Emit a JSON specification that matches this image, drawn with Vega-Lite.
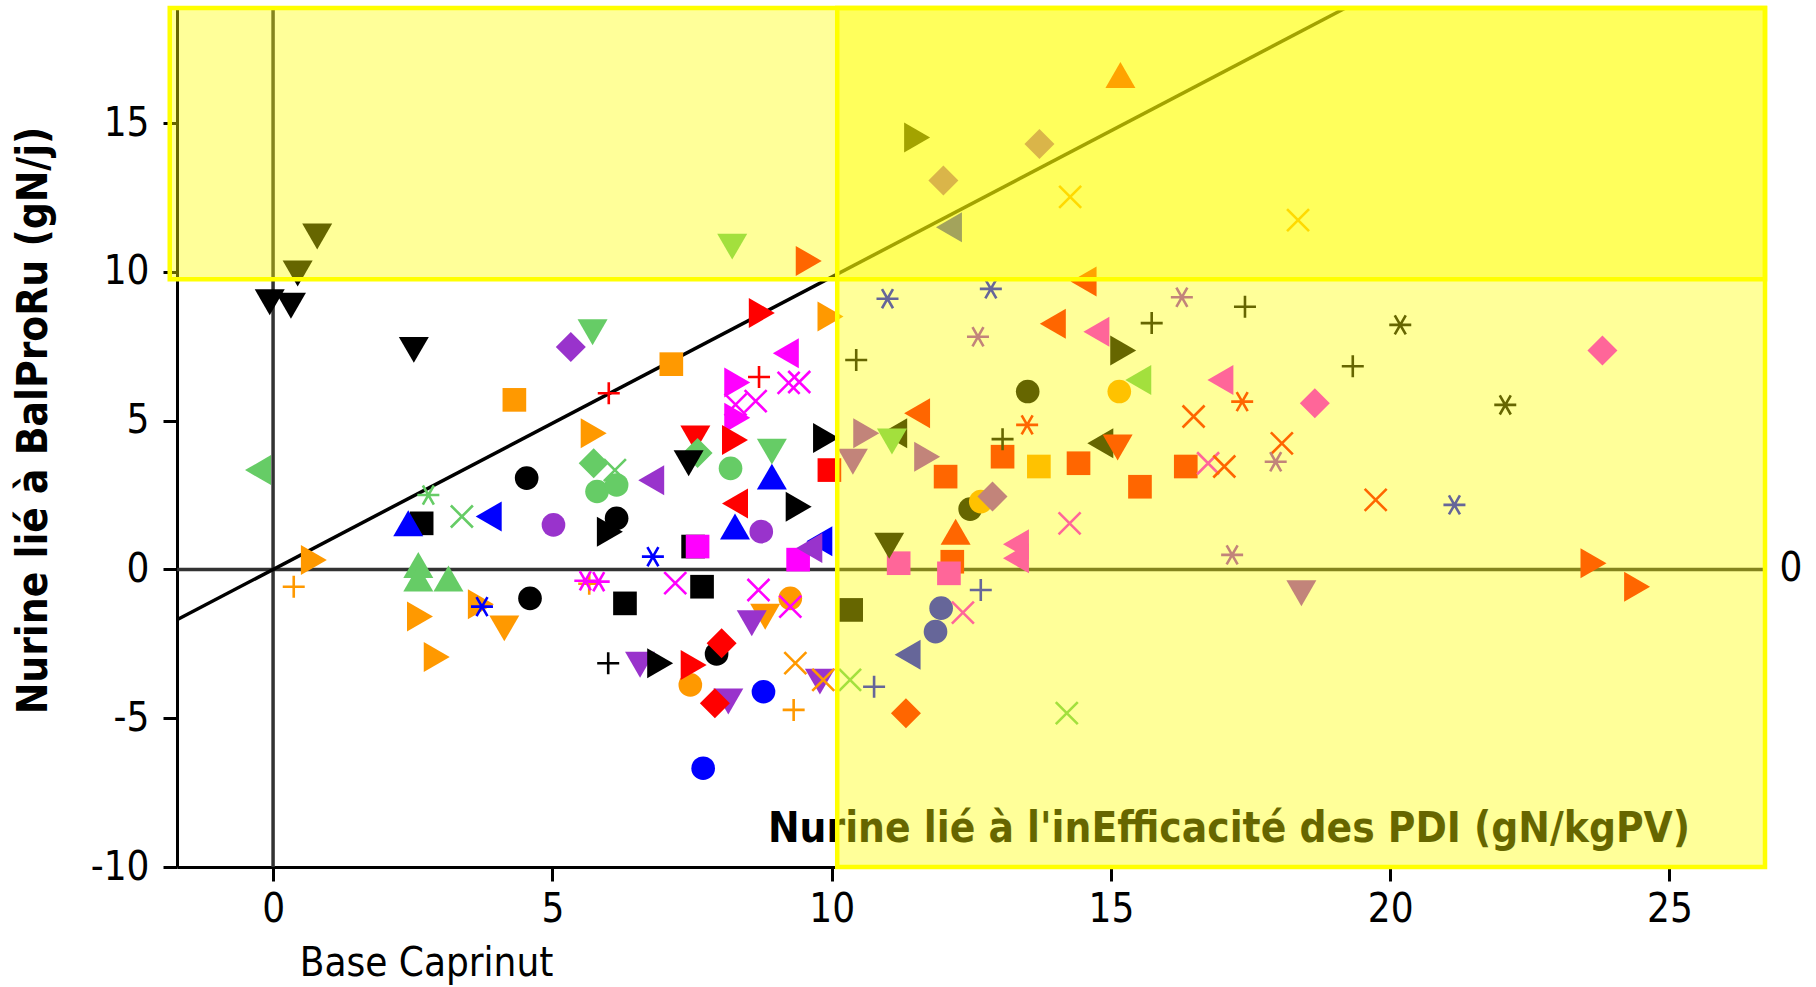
{
  "$schema": "https://vega.github.io/schema/vega-lite/v6.json",
  "width": 1588,
  "height": 859,
  "autosize": "none",
  "padding": {"left": 177, "top": 8, "right": 51, "bottom": 120},
  "background": "white",
  "config": {
    "view": {"stroke": null},
    "font": "DejaVu Sans Condensed, DejaVu Sans"
  },
  "datasets": {
    "points": [
      {"ineff": 15.17, "balpro": 16.62, "couleur": "rouge", "symbole": "triangle haut"},
      {"ineff": 11.53, "balpro": 14.52, "couleur": "noir", "symbole": "triangle droit"},
      {"ineff": 13.72, "balpro": 14.3, "couleur": "violet", "symbole": "losange"},
      {"ineff": 12.0, "balpro": 13.07, "couleur": "violet", "symbole": "losange"},
      {"ineff": 14.27, "balpro": 12.52, "couleur": "orange", "symbole": "croix"},
      {"ineff": 18.35, "balpro": 11.74, "couleur": "orange", "symbole": "croix"},
      {"ineff": 12.1, "balpro": 11.5, "couleur": "bleu", "symbole": "triangle gauche"},
      {"ineff": 8.22, "balpro": 10.85, "couleur": "vert", "symbole": "triangle bas"},
      {"ineff": 9.59, "balpro": 10.37, "couleur": "rouge", "symbole": "triangle droit"},
      {"ineff": 0.79, "balpro": 11.19, "couleur": "noir", "symbole": "triangle bas"},
      {"ineff": 0.44, "balpro": 9.95, "couleur": "noir", "symbole": "triangle bas"},
      {"ineff": 14.51, "balpro": 9.68, "couleur": "rouge", "symbole": "triangle gauche"},
      {"ineff": -0.06, "balpro": 8.98, "couleur": "noir", "symbole": "triangle bas"},
      {"ineff": 0.32, "balpro": 8.86, "couleur": "noir", "symbole": "triangle bas"},
      {"ineff": 11.0, "balpro": 9.1, "couleur": "bleu", "symbole": "étoile"},
      {"ineff": 12.85, "balpro": 9.43, "couleur": "bleu", "symbole": "étoile"},
      {"ineff": 16.27, "balpro": 9.15, "couleur": "violet", "symbole": "étoile"},
      {"ineff": 15.73, "balpro": 8.28, "couleur": "noir", "symbole": "plus"},
      {"ineff": 17.4, "balpro": 8.83, "couleur": "noir", "symbole": "plus"},
      {"ineff": 20.18, "balpro": 8.22, "couleur": "noir", "symbole": "étoile"},
      {"ineff": 13.96, "balpro": 8.26, "couleur": "rouge", "symbole": "triangle gauche"},
      {"ineff": 14.74, "balpro": 7.99, "couleur": "magenta", "symbole": "triangle gauche"},
      {"ineff": 15.22, "balpro": 7.36, "couleur": "noir", "symbole": "triangle droit"},
      {"ineff": 23.8, "balpro": 7.36, "couleur": "magenta", "symbole": "losange"},
      {"ineff": 19.33, "balpro": 6.83, "couleur": "noir", "symbole": "plus"},
      {"ineff": 8.75, "balpro": 8.62, "couleur": "rouge", "symbole": "triangle droit"},
      {"ineff": 9.98, "balpro": 8.5, "couleur": "orange", "symbole": "triangle droit"},
      {"ineff": 5.72, "balpro": 7.97, "couleur": "vert", "symbole": "triangle bas"},
      {"ineff": 5.33, "balpro": 7.48, "couleur": "violet", "symbole": "losange"},
      {"ineff": 2.52, "balpro": 7.38, "couleur": "noir", "symbole": "triangle bas"},
      {"ineff": 7.13, "balpro": 6.9, "couleur": "orange", "symbole": "carré"},
      {"ineff": 4.32, "balpro": 5.7, "couleur": "orange", "symbole": "carré"},
      {"ineff": 6.01, "balpro": 5.92, "couleur": "rouge", "symbole": "plus"},
      {"ineff": 9.18, "balpro": 7.27, "couleur": "magenta", "symbole": "triangle gauche"},
      {"ineff": 8.31, "balpro": 6.28, "couleur": "magenta", "symbole": "triangle droit"},
      {"ineff": 8.7, "balpro": 6.47, "couleur": "rouge", "symbole": "plus"},
      {"ineff": 9.23, "balpro": 6.27, "couleur": "magenta", "symbole": "croix"},
      {"ineff": 9.42, "balpro": 6.3, "couleur": "magenta", "symbole": "croix"},
      {"ineff": 8.28, "balpro": 5.54, "couleur": "magenta", "symbole": "croix"},
      {"ineff": 8.64, "balpro": 5.66, "couleur": "magenta", "symbole": "croix"},
      {"ineff": 8.31, "balpro": 5.1, "couleur": "magenta", "symbole": "triangle droit"},
      {"ineff": 12.62, "balpro": 7.82, "couleur": "violet", "symbole": "étoile"},
      {"ineff": 10.44, "balpro": 7.04, "couleur": "noir", "symbole": "plus"},
      {"ineff": 13.51, "balpro": 5.98, "couleur": "noir", "symbole": "rond"},
      {"ineff": 15.15, "balpro": 5.98, "couleur": "orange", "symbole": "rond"},
      {"ineff": 15.49, "balpro": 6.37, "couleur": "vert", "symbole": "triangle gauche"},
      {"ineff": 16.96, "balpro": 6.37, "couleur": "magenta", "symbole": "triangle gauche"},
      {"ineff": 16.48, "balpro": 5.14, "couleur": "rouge", "symbole": "croix"},
      {"ineff": 13.5, "balpro": 4.86, "couleur": "rouge", "symbole": "étoile"},
      {"ineff": 11.53, "balpro": 5.25, "couleur": "rouge", "symbole": "triangle gauche"},
      {"ineff": 10.62, "balpro": 4.58, "couleur": "violet", "symbole": "triangle droit"},
      {"ineff": 11.12, "balpro": 4.58, "couleur": "noir", "symbole": "triangle gauche"},
      {"ineff": 11.08, "balpro": 4.3, "couleur": "vert", "symbole": "triangle bas"},
      {"ineff": 10.38, "balpro": 3.62, "couleur": "violet", "symbole": "triangle bas"},
      {"ineff": 11.71, "balpro": 3.79, "couleur": "violet", "symbole": "triangle droit"},
      {"ineff": 12.04, "balpro": 3.12, "couleur": "rouge", "symbole": "carré"},
      {"ineff": 13.06, "balpro": 4.38, "couleur": "noir", "symbole": "plus"},
      {"ineff": 13.06, "balpro": 3.79, "couleur": "rouge", "symbole": "carré"},
      {"ineff": 13.71, "balpro": 3.46, "couleur": "orange", "symbole": "carré"},
      {"ineff": 14.42, "balpro": 3.57, "couleur": "rouge", "symbole": "carré"},
      {"ineff": 14.81, "balpro": 4.24, "couleur": "noir", "symbole": "triangle gauche"},
      {"ineff": 15.12, "balpro": 4.1, "couleur": "rouge", "symbole": "triangle bas"},
      {"ineff": 15.52, "balpro": 2.78, "couleur": "rouge", "symbole": "carré"},
      {"ineff": 16.34, "balpro": 3.46, "couleur": "rouge", "symbole": "carré"},
      {"ineff": 16.74, "balpro": 3.57, "couleur": "magenta", "symbole": "croix"},
      {"ineff": 12.48, "balpro": 2.03, "couleur": "noir", "symbole": "rond"},
      {"ineff": 12.88, "balpro": 2.45, "couleur": "violet", "symbole": "losange"},
      {"ineff": 12.67, "balpro": 2.28, "couleur": "orange", "symbole": "rond"},
      {"ineff": 12.22, "balpro": 1.27, "couleur": "rouge", "symbole": "triangle haut"},
      {"ineff": 14.26, "balpro": 1.55, "couleur": "magenta", "symbole": "croix"},
      {"ineff": 13.3, "balpro": 0.85, "couleur": "magenta", "symbole": "triangle gauche"},
      {"ineff": 13.3, "balpro": 0.38, "couleur": "magenta", "symbole": "triangle gauche"},
      {"ineff": 11.03, "balpro": 0.8, "couleur": "noir", "symbole": "triangle bas"},
      {"ineff": 11.2, "balpro": 0.21, "couleur": "magenta", "symbole": "carré"},
      {"ineff": 12.16, "balpro": 0.26, "couleur": "rouge", "symbole": "carré"},
      {"ineff": 12.1, "balpro": -0.13, "couleur": "magenta", "symbole": "carré"},
      {"ineff": 12.67, "balpro": -0.69, "couleur": "bleu", "symbole": "plus"},
      {"ineff": 10.35, "balpro": -1.36, "couleur": "noir", "symbole": "carré"},
      {"ineff": 11.96, "balpro": -1.3, "couleur": "bleu", "symbole": "rond"},
      {"ineff": 12.35, "balpro": -1.45, "couleur": "magenta", "symbole": "croix"},
      {"ineff": 11.86, "balpro": -2.09, "couleur": "bleu", "symbole": "rond"},
      {"ineff": 11.36, "balpro": -2.87, "couleur": "bleu", "symbole": "triangle gauche"},
      {"ineff": 17.35, "balpro": 5.64, "couleur": "rouge", "symbole": "étoile"},
      {"ineff": 18.65, "balpro": 5.59, "couleur": "magenta", "symbole": "losange"},
      {"ineff": 22.06, "balpro": 5.53, "couleur": "noir", "symbole": "étoile"},
      {"ineff": 18.06, "balpro": 4.24, "couleur": "rouge", "symbole": "croix"},
      {"ineff": 17.03, "balpro": 3.46, "couleur": "rouge", "symbole": "croix"},
      {"ineff": 17.95, "balpro": 3.62, "couleur": "violet", "symbole": "étoile"},
      {"ineff": 19.74, "balpro": 2.34, "couleur": "rouge", "symbole": "croix"},
      {"ineff": 21.15, "balpro": 2.17, "couleur": "bleu", "symbole": "étoile"},
      {"ineff": 17.17, "balpro": 0.49, "couleur": "violet", "symbole": "étoile"},
      {"ineff": 18.41, "balpro": -0.8, "couleur": "violet", "symbole": "triangle bas"},
      {"ineff": 23.64, "balpro": 0.21, "couleur": "rouge", "symbole": "triangle droit"},
      {"ineff": 24.42, "balpro": -0.58, "couleur": "rouge", "symbole": "triangle droit"},
      {"ineff": -0.27, "balpro": 3.34, "couleur": "vert", "symbole": "triangle gauche"},
      {"ineff": 0.73, "balpro": 0.32, "couleur": "orange", "symbole": "triangle droit"},
      {"ineff": 0.37, "balpro": -0.58, "couleur": "orange", "symbole": "plus"},
      {"ineff": 2.6, "balpro": 0.15, "couleur": "vert", "symbole": "triangle haut"},
      {"ineff": 2.6, "balpro": -0.3, "couleur": "vert", "symbole": "triangle haut"},
      {"ineff": 3.14, "balpro": -0.3, "couleur": "vert", "symbole": "triangle haut"},
      {"ineff": 2.42, "balpro": 1.55, "couleur": "bleu", "symbole": "triangle haut"},
      {"ineff": 2.66, "balpro": 1.55, "couleur": "noir", "symbole": "carré"},
      {"ineff": 2.78, "balpro": 2.5, "couleur": "vert", "symbole": "étoile"},
      {"ineff": 3.38, "balpro": 1.78, "couleur": "vert", "symbole": "croix"},
      {"ineff": 3.86, "balpro": 1.78, "couleur": "bleu", "symbole": "triangle gauche"},
      {"ineff": 4.54, "balpro": 3.07, "couleur": "noir", "symbole": "rond"},
      {"ineff": 5.02, "balpro": 1.5, "couleur": "violet", "symbole": "rond"},
      {"ineff": 6.03, "balpro": 1.27, "couleur": "noir", "symbole": "triangle droit"},
      {"ineff": 6.15, "balpro": 1.72, "couleur": "noir", "symbole": "rond"},
      {"ineff": 5.74, "balpro": 4.58, "couleur": "orange", "symbole": "triangle droit"},
      {"ineff": 5.74, "balpro": 3.57, "couleur": "vert", "symbole": "losange"},
      {"ineff": 6.12, "balpro": 3.34, "couleur": "vert", "symbole": "croix"},
      {"ineff": 5.8, "balpro": 2.62, "couleur": "vert", "symbole": "rond"},
      {"ineff": 6.15, "balpro": 2.84, "couleur": "vert", "symbole": "rond"},
      {"ineff": 6.77, "balpro": 3.0, "couleur": "violet", "symbole": "triangle gauche"},
      {"ineff": 7.56, "balpro": 4.4, "couleur": "rouge", "symbole": "triangle bas"},
      {"ineff": 7.6, "balpro": 3.91, "couleur": "vert", "symbole": "losange"},
      {"ineff": 7.44, "balpro": 3.57, "couleur": "noir", "symbole": "triangle bas"},
      {"ineff": 8.27, "balpro": 4.35, "couleur": "rouge", "symbole": "triangle droit"},
      {"ineff": 8.19, "balpro": 3.4, "couleur": "vert", "symbole": "rond"},
      {"ineff": 8.93, "balpro": 3.96, "couleur": "vert", "symbole": "triangle bas"},
      {"ineff": 8.93, "balpro": 3.12, "couleur": "bleu", "symbole": "triangle haut"},
      {"ineff": 9.9, "balpro": 4.42, "couleur": "noir", "symbole": "triangle droit"},
      {"ineff": 9.96, "balpro": 3.34, "couleur": "rouge", "symbole": "carré"},
      {"ineff": 8.27, "balpro": 2.22, "couleur": "rouge", "symbole": "triangle gauche"},
      {"ineff": 8.27, "balpro": 1.44, "couleur": "bleu", "symbole": "triangle haut"},
      {"ineff": 8.74, "balpro": 1.27, "couleur": "violet", "symbole": "rond"},
      {"ineff": 9.41, "balpro": 2.11, "couleur": "noir", "symbole": "triangle droit"},
      {"ineff": 7.52, "balpro": 0.77, "couleur": "noir", "symbole": "carré"},
      {"ineff": 7.6, "balpro": 0.77, "couleur": "magenta", "symbole": "carré"},
      {"ineff": 6.8, "balpro": 0.43, "couleur": "bleu", "symbole": "étoile"},
      {"ineff": 9.78, "balpro": 0.95, "couleur": "bleu", "symbole": "triangle gauche"},
      {"ineff": 9.6, "balpro": 0.72, "couleur": "violet", "symbole": "triangle gauche"},
      {"ineff": 9.4, "balpro": 0.33, "couleur": "magenta", "symbole": "carré"},
      {"ineff": 2.63, "balpro": -1.58, "couleur": "orange", "symbole": "triangle droit"},
      {"ineff": 2.93, "balpro": -2.94, "couleur": "orange", "symbole": "triangle droit"},
      {"ineff": 4.14, "balpro": -1.98, "couleur": "orange", "symbole": "triangle bas"},
      {"ineff": 3.72, "balpro": -1.17, "couleur": "orange", "symbole": "triangle droit"},
      {"ineff": 3.74, "balpro": -1.25, "couleur": "bleu", "symbole": "étoile"},
      {"ineff": 4.6, "balpro": -0.97, "couleur": "noir", "symbole": "rond"},
      {"ineff": 5.66, "balpro": -0.48, "couleur": "orange", "symbole": "plus"},
      {"ineff": 5.59, "balpro": -0.38, "couleur": "magenta", "symbole": "étoile"},
      {"ineff": 5.83, "balpro": -0.41, "couleur": "magenta", "symbole": "étoile"},
      {"ineff": 6.3, "balpro": -1.14, "couleur": "noir", "symbole": "carré"},
      {"ineff": 7.2, "balpro": -0.46, "couleur": "magenta", "symbole": "croix"},
      {"ineff": 7.68, "balpro": -0.58, "couleur": "noir", "symbole": "carré"},
      {"ineff": 8.69, "balpro": -0.69, "couleur": "magenta", "symbole": "croix"},
      {"ineff": 9.26, "balpro": -0.97, "couleur": "orange", "symbole": "rond"},
      {"ineff": 9.26, "balpro": -1.25, "couleur": "magenta", "symbole": "croix"},
      {"ineff": 8.81, "balpro": -1.59, "couleur": "orange", "symbole": "triangle bas"},
      {"ineff": 8.57, "balpro": -1.81, "couleur": "violet", "symbole": "triangle bas"},
      {"ineff": 7.94, "balpro": -2.84, "couleur": "noir", "symbole": "rond"},
      {"ineff": 8.03, "balpro": -2.48, "couleur": "rouge", "symbole": "losange"},
      {"ineff": 6.0, "balpro": -3.15, "couleur": "noir", "symbole": "plus"},
      {"ineff": 6.57, "balpro": -3.2, "couleur": "violet", "symbole": "triangle bas"},
      {"ineff": 6.93, "balpro": -3.15, "couleur": "noir", "symbole": "triangle droit"},
      {"ineff": 7.53, "balpro": -3.21, "couleur": "rouge", "symbole": "triangle droit"},
      {"ineff": 7.47, "balpro": -3.88, "couleur": "orange", "symbole": "rond"},
      {"ineff": 8.15, "balpro": -4.44, "couleur": "violet", "symbole": "triangle bas"},
      {"ineff": 7.91, "balpro": -4.5, "couleur": "rouge", "symbole": "losange"},
      {"ineff": 8.78, "balpro": -4.11, "couleur": "bleu", "symbole": "rond"},
      {"ineff": 7.7, "balpro": -6.68, "couleur": "bleu", "symbole": "rond"},
      {"ineff": 9.35, "balpro": -3.15, "couleur": "orange", "symbole": "croix"},
      {"ineff": 9.32, "balpro": -4.72, "couleur": "orange", "symbole": "plus"},
      {"ineff": 9.79, "balpro": -3.77, "couleur": "violet", "symbole": "triangle bas"},
      {"ineff": 9.85, "balpro": -3.71, "couleur": "orange", "symbole": "croix"},
      {"ineff": 10.33, "balpro": -3.71, "couleur": "vert", "symbole": "croix"},
      {"ineff": 10.76, "balpro": -3.94, "couleur": "bleu", "symbole": "plus"},
      {"ineff": 11.33, "balpro": -4.83, "couleur": "rouge", "symbole": "losange"},
      {"ineff": 14.21, "balpro": -4.83, "couleur": "vert", "symbole": "croix"}
    ],
    "axe_vertical": [{"ineff": 0, "balpro": -10, "balpro_fin": 18.87}],
    "axe_horizontal": [{"ineff": -1.72, "ineff_fin": 26.71, "balpro": 0}],
    "diagonale": [
      {"ineff": -1.72, "balpro": -1.69},
      {"ineff": 19.2, "balpro": 18.87}
    ],
    "zones": [
      {"zone": "haut", "ineff": -1.85, "ineff_fin": 26.71, "balpro": 9.75, "balpro_fin": 18.87},
      {"zone": "droite", "ineff": 10.1, "ineff_fin": 26.71, "balpro": -10, "balpro_fin": 18.87}
    ],
    "annotations": [
      {"ineff": 8.86, "balpro": -9.16, "texte": "Nurine lié à l'inEfficacité des PDI (gN/kgPV)"}
    ],
    "etiquette_droite": [
      {"ineff": 26.97, "balpro": 0, "texte": "0"}
    ]
  },
  "encoding": {
    "x": {
      "field": "ineff", "type": "quantitative",
      "scale": {"domain": [-1.72, 26.71], "nice": false, "zero": false},
      "axis": {
        "values": [0, 5, 10, 15, 20, 25], "grid": false,
        "domainColor": "#000000", "domainWidth": 3, "tickColor": "#000000", "tickWidth": 3, "tickSize": 14,
        "labelFont": "DejaVu Sans Condensed, DejaVu Sans", "labelFontSize": 40, "labelColor": "#000000", "labelPadding": 8,
        "labelExpr": "replace(datum.label, '\u2212', '-')",
        "title": "Base Caprinut", "titleFont": "DejaVu Sans Condensed, DejaVu Sans", "titleFontSize": 40, "titleFontWeight": "normal", "titleColor": "#000000",
        "titleX": 249, "titleY": 108, "titleAlign": "center", "titleBaseline": "alphabetic"
      }
    },
    "y": {
      "field": "balpro", "type": "quantitative",
      "scale": {"domain": [-10, 18.87], "nice": false, "zero": false},
      "axis": {
        "values": [-10, -5, 0, 5, 10, 15], "grid": false,
        "domainColor": "#000000", "domainWidth": 3, "tickColor": "#000000", "tickWidth": 3, "tickSize": 14,
        "labelFont": "DejaVu Sans Condensed, DejaVu Sans", "labelFontSize": 40, "labelColor": "#000000", "labelPadding": 14,
        "labelExpr": "replace(datum.label, '\u2212', '-')",
        "title": "Nurine lié à BalProRu (gN/j)", "titleFont": "DejaVu Sans Condensed, DejaVu Sans", "titleFontSize": 42, "titleFontWeight": "bold", "titleColor": "#000000",
        "titleX": -131, "titleY": 412, "titleAngle": -90, "titleAlign": "center", "titleBaseline": "alphabetic"
      }
    }
  },
  "layer": [
    {
      "data": {"name": "axe_vertical"},
      "mark": {"type": "rule", "color": "#333333", "strokeWidth": 3.5},
      "encoding": {"y2": {"field": "balpro_fin"}}
    },
    {
      "data": {"name": "axe_horizontal"},
      "mark": {"type": "rule", "color": "#333333", "strokeWidth": 3.5},
      "encoding": {"x2": {"field": "ineff_fin"}}
    },
    {
      "data": {"name": "diagonale"},
      "mark": {"type": "line", "color": "#000000", "strokeWidth": 3.5},
      "encoding": {}
    },
    {
      "data": {"name": "annotations"},
      "mark": {"type": "text", "align": "left", "baseline": "alphabetic", "fontSize": 42, "fontWeight": "bold", "color": "#000000", "font": "DejaVu Sans Condensed, DejaVu Sans"},
      "encoding": {"text": {"field": "texte"}}
    },
    {
      "data": {"name": "points"},
      "transform": [{"filter": {"field": "symbole", "oneOf": ["rond", "carré"]}}],
      "mark": {"type": "point", "filled": true, "opacity": 1, "strokeWidth": 0, "size": 560},
      "encoding": {
        "color": {
          "field": "couleur", "type": "nominal", "legend": null,
          "scale": {"domain": ["noir", "rouge", "magenta", "bleu", "violet", "vert", "orange"], "range": ["#000000", "#FF0000", "#FF00FF", "#0000FF", "#9933CC", "#66CC66", "#FF9900"]}
        },
        "shape": {
          "field": "symbole", "type": "nominal", "legend": null,
          "scale": {
            "domain": ["rond", "carré", "triangle haut", "triangle bas", "triangle gauche", "triangle droit", "losange", "plus", "croix", "étoile"],
            "range": ["circle", "square", "triangle-up", "triangle-down", "triangle-left", "triangle-right", "diamond", "M-1,0L1,0M0,-1L0,1", "M-1,-1L1,1M-1,1L1,-1", "M-1,0L1,0M-0.5,-0.87L0.5,0.87M0.5,-0.87L-0.5,0.87"]
          }
        }
      }
    },
    {
      "data": {"name": "points"},
      "transform": [{"filter": {"field": "symbole", "oneOf": ["triangle haut", "triangle bas", "triangle gauche", "triangle droit", "losange"]}}],
      "mark": {"type": "point", "filled": true, "opacity": 1, "strokeWidth": 0, "size": 900},
      "encoding": {
        "color": {"field": "couleur", "type": "nominal", "legend": null},
        "shape": {"field": "symbole", "type": "nominal", "legend": null}
      }
    },
    {
      "data": {"name": "points"},
      "transform": [{"filter": {"field": "symbole", "oneOf": ["plus", "croix", "étoile"]}}],
      "mark": {"type": "point", "filled": false, "opacity": 1, "strokeWidth": 2.6, "size": 484},
      "encoding": {
        "color": {"field": "couleur", "type": "nominal", "legend": null},
        "shape": {"field": "symbole", "type": "nominal", "legend": null}
      }
    },
    {
      "data": {"name": "zones"},
      "mark": {"type": "rect", "fill": "#FFFF00", "fillOpacity": 0.4, "stroke": "#FFFF00", "strokeWidth": 4.5},
      "encoding": {
        "x2": {"field": "ineff_fin"},
        "y2": {"field": "balpro_fin"}
      }
    },
    {
      "data": {"name": "etiquette_droite"},
      "mark": {"type": "text", "align": "left", "baseline": "middle", "fontSize": 40, "color": "#000000", "font": "DejaVu Sans Condensed, DejaVu Sans"},
      "encoding": {"text": {"field": "texte"}}
    }
  ]
}
